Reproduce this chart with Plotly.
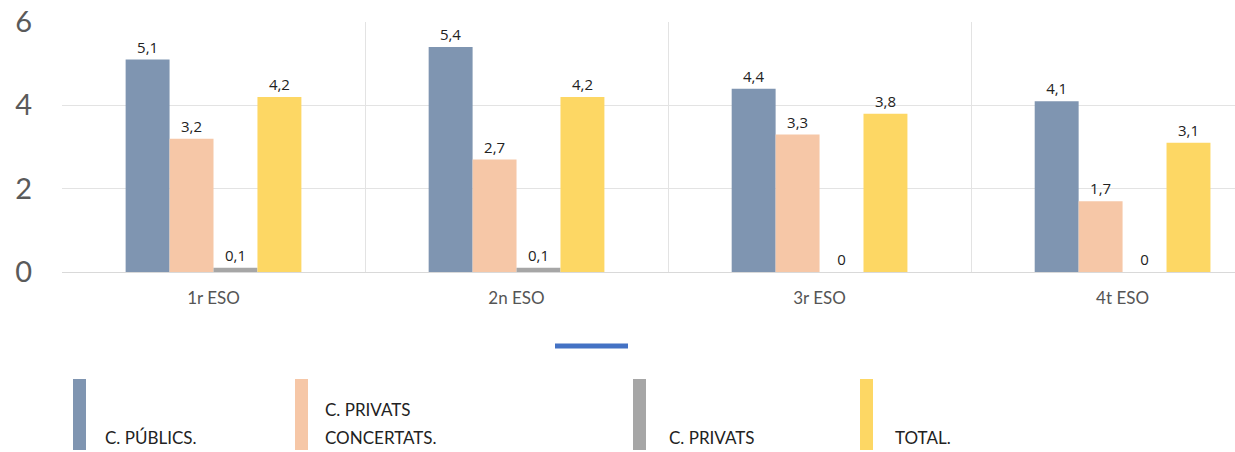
import plotly.graph_objects as go

categories = ["1r ESO", "2n ESO", "3r ESO", "4t ESO"]
publics = [5.1, 5.4, 4.4, 4.1]
concertats = [3.2, 2.7, 3.3, 1.7]
privats = [0.1, 0.1, 0, 0]
total = [4.2, 4.2, 3.8, 3.1]

series_names = ["C. PÚBLICS.", "C. PRIVATS CONCERTATS.", "C. PRIVATS", "TOTAL."]
legend_lines = [["C. PÚBLICS."], ["C. PRIVATS", "CONCERTATS."], ["C. PRIVATS"], ["TOTAL."]]
series_values = [publics, concertats, privats, total]
colors = ["#7F95B1", "#F6C7A7", "#A6A6A6", "#FDD764"]

def fmt(v):
    return ("%g" % v).replace(".", ",")

xpos = list(range(len(categories)))

fig = go.Figure()
for name, vals, col in zip(series_names, series_values, colors):
    fig.add_trace(go.Bar(
        x=xpos, y=vals, name=name, marker_color=col, marker_line_width=0,
        text=[fmt(v) for v in vals], textposition="outside",
        textfont=dict(family="Open Sans", size=15, color="#222222"),
        cliponaxis=False, showlegend=False,
    ))

fig.update_layout(
    width=1235, height=452,
    margin=dict(l=62, r=0, t=22, b=180, autoexpand=False),
    paper_bgcolor="white", plot_bgcolor="white",
    barmode="group", bargap=0.42, bargroupgap=0.0,
    xaxis=dict(
        range=[-0.5, 3.371], tickvals=xpos, ticktext=categories,
        showgrid=False, zeroline=False, showline=False, ticks="",
        tickfont=dict(family="Lato", size=17, color="#555555"),
        ticklabelstandoff=14, automargin=False,
        minor=dict(tickvals=[-0.5, 0.5, 1.5, 2.5], showgrid=True, gridcolor="#E3E3E3", gridwidth=1, ticks=""),
    ),
    yaxis=dict(
        range=[0, 6], tickvals=[0, 2, 4, 6], showgrid=True, gridcolor="#E3E3E3",
        zeroline=True, zerolinecolor="#D9D9D9", zerolinewidth=1, ticks="",
        tickfont=dict(family="Lato", size=29, color="#5a5a5a"),
        ticklabelstandoff=29, ticklabeloverflow="allow", automargin=False,
    ),
)

def px2paper_x(px):
    return (px - 62) / 1173

def px2paper_y(py):
    return (272 - py) / 250

fig.add_shape(type="line", xref="paper", yref="paper",
              x0=px2paper_x(555), x1=px2paper_x(628),
              y0=px2paper_y(346), y1=px2paper_y(346),
              line=dict(color="#4472C4", width=5))

swatch_x = [73, 295, 633, 860]
text_x = [103, 323, 667, 893]
for lines, col, sx, tx in zip(legend_lines, colors, swatch_x, text_x):
    fig.add_shape(type="rect", xref="paper", yref="paper",
                  x0=px2paper_x(sx), x1=px2paper_x(sx + 13),
                  y0=px2paper_y(450), y1=px2paper_y(379),
                  fillcolor=col, line_width=0)
    n = len(lines)
    for i, line in enumerate(lines):
        cy = 437 - (n - 1 - i) * 28
        fig.add_annotation(xref="paper", yref="paper",
                           x=px2paper_x(tx), y=px2paper_y(cy),
                           xanchor="left", yanchor="middle", align="left",
                           text=line, showarrow=False,
                           font=dict(family="Lato", size=17, color="#222222"))

fig.write_html("out.html", config={"displayModeBar": False},
               post_script="document.body.style.margin='0';")
